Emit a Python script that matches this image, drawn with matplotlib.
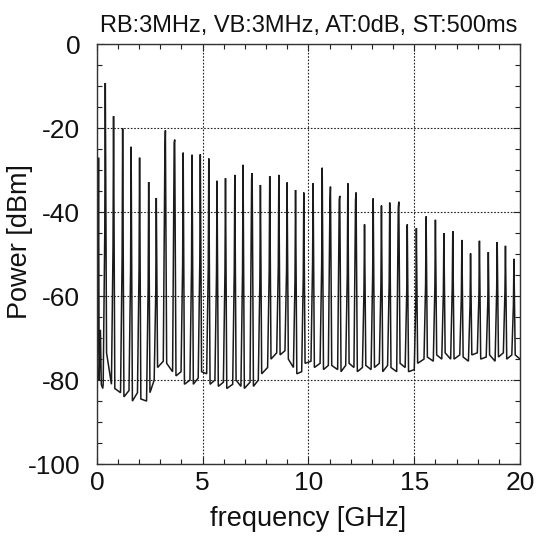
import matplotlib
matplotlib.use("Agg")
import matplotlib.pyplot as plt
from matplotlib.ticker import MultipleLocator

plt.rcParams['font.family'] = ['Liberation Sans', 'DejaVu Sans']
plt.rcParams['axes.unicode_minus'] = False

# ---- data ----
title_text = "RB:3MHz, VB:3MHz, AT:0dB, ST:500ms"
x_label = "frequency [GHz]"
y_label = "Power [dBm]"

# region near DC (GHz, dBm)
dc_freq = [0.00, 0.05, 0.08, 0.11, 0.17, 0.21, 0.28]
dc_level = [-80, -70, -27, -80, -68, -81, -82]

# comb lines: frequency (GHz), peak level, level where the double trace ends
peak_freq = [0.40, 0.79, 1.22, 1.62, 2.02, 2.45, 2.81, 3.24, 3.68, 4.08,
             4.50, 4.89, 5.29, 5.68, 6.08, 6.52, 6.91, 7.34, 7.73, 8.17,
             8.60, 8.99, 9.39, 9.78, 10.22, 10.65, 11.04, 11.48, 11.86, 12.25,
             12.65, 13.06, 13.45, 13.84, 14.27, 14.67, 15.10, 15.56, 16.00, 16.40,
             16.82, 17.25, 17.66, 18.08, 18.50, 18.92, 19.31, 19.71]
peak_level = [-9.2, -17.1, -20.0, -24.4, -27.0, -32.8, -36.6, -20.5, -22.7, -25.8,
              -26.3, -26.2, -27.2, -32.5, -31.9, -31.1, -28.7, -30.7, -33.5, -31.4,
              -31.1, -32.9, -34.7, -35.3, -33.1, -29.4, -33.9, -36.1, -33.1, -35.3,
              -42.9, -36.7, -38.4, -37.7, -37.5, -42.9, -43.8, -41.0, -41.8, -45.0,
              -44.5, -46.6, -49.8, -46.8, -49.5, -47.1, -48.0, -51.1]
mid_level = [-44.6, -48.2, -50.6, -53.7, -53.3, -57.7, -58.9, -26.0, -23.5, -52.0,
             -53.0, -52.0, -53.0, -54.5, -54.1, -53.6, -54.0, -32.0, -56.0, -53.8,
             -52.9, -53.7, -56.0, -55.3, -52.0, -52.4, -37.5, -37.0, -55.0, -37.0,
             -58.3, -54.4, -57.0, -56.6, -39.0, -58.7, -60.7, -57.3, -57.5, -59.0,
             -57.8, -60.2, -62.2, -59.8, -61.4, -58.3, -59.0, -62.2]
# noise floor just before each line rises and just after it falls
floor_before = [-81, -81, -83, -82.5, -83, -85, -80, -75.5, -78, -78,
                -80, -79.5, -78.5, -80, -80.5, -81, -81.5, -80.5, -80, -77,
                -73.5, -73, -77, -78, -75.5, -76, -76.5, -77.5, -76.5, -77,
                -77, -77.5, -76, -76.5, -78, -77, -77.5, -75, -75.5, -75,
                -75, -74, -75.5, -73.5, -74.5, -75.5, -73.5, -74]
floor_after = [-73.5, -82, -84, -85, -84.5, -83, -77, -76, -79, -81,
               -81, -78, -81, -81.5, -82, -80, -82, -81.5, -78.5, -75,
               -74, -75, -78.5, -76, -77, -77.5, -76.5, -78, -76, -78,
               -76.5, -77, -78, -77, -76, -78, -76, -74.5, -74, -73.5,
               -75, -74.5, -74, -75, -74, -74.5, -75, -74]
end_freq = [20.0]
end_level = [-75]

# ---- build trace ----
freqs = list(dc_freq)
levels = list(dc_level)
for f, pk, md, fb, fa in zip(peak_freq, peak_level, mid_level, floor_before, floor_after):
    freqs += [f - 0.10, f - 0.025, f, f + 0.06]
    levels += [fb, md, pk, fa]
freqs += end_freq
levels += end_level

fig = plt.figure(figsize=(5.44, 5.38), dpi=100)
ax = fig.add_axes([0.178, 0.1375, 0.778, 0.780])
ax.plot(freqs, levels, color='#1a1a1a', lw=1.1, solid_joinstyle='miter')

ax.set_xlim(0, 20)
ax.set_ylim(-100, 0)
ax.xaxis.set_major_locator(MultipleLocator(5))
ax.xaxis.set_minor_locator(MultipleLocator(1))
ax.yaxis.set_major_locator(MultipleLocator(20))
ax.yaxis.set_minor_locator(MultipleLocator(5))
ax.tick_params(which='both', direction='in', top=True, right=True, colors='#222222')
ax.tick_params(which='major', length=5, width=0.8, labelsize=19, pad=5, labelcolor='#111111')
ax.tick_params(which='minor', length=3.5, width=0.8)
ax.tick_params(axis='y', which='major', pad=12)
ax.grid(True, which='major', color='#222222', lw=0.8, ls=(0, (1.5, 1.5)))
for s in ax.spines.values():
    s.set_linewidth(1.0)
    s.set_color('#333333')

ax.set_title(title_text, fontsize=17, pad=9, color='#111111')
ax.set_xlabel(x_label, fontsize=19.5, labelpad=8, color='#111111')
ax.set_ylabel(y_label, fontsize=19.5, color='#111111')
ax.yaxis.set_label_coords(-0.15, 0.53)

fig.savefig("out.png", dpi=100)
